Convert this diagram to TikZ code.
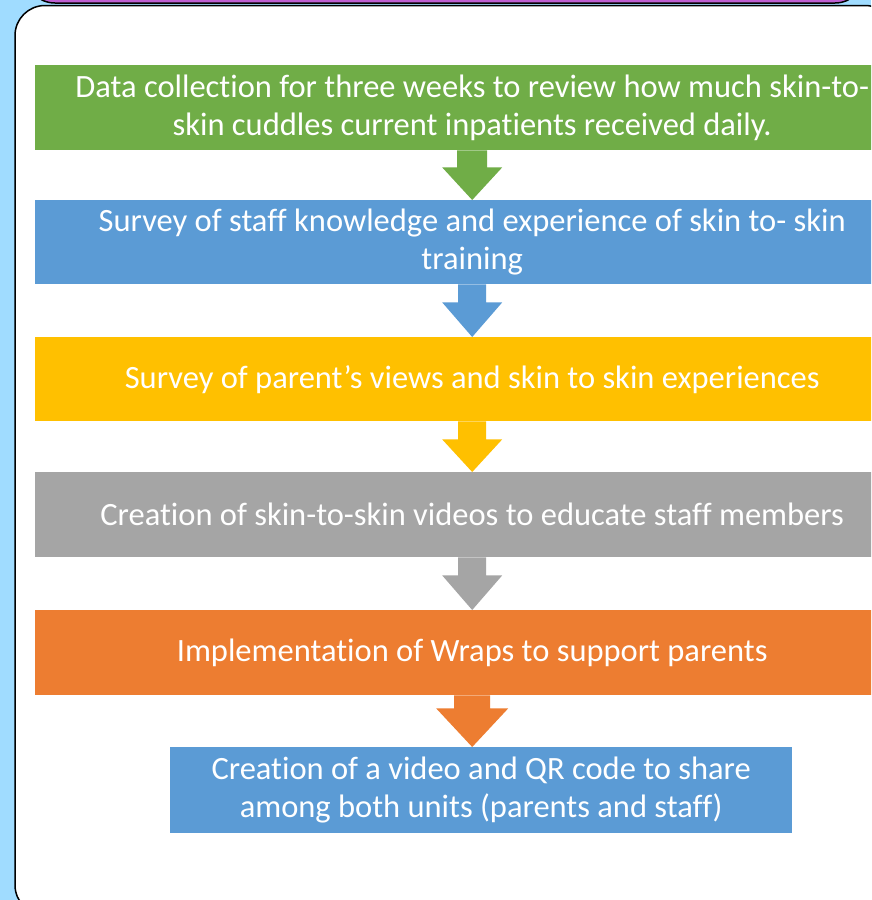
\documentclass[tikz,border=0pt]{standalone}
\usepackage{fontspec}
\setmainfont[Ligatures=NoCommon]{Carlito}
\usetikzlibrary{calc}
\definecolor{bgblue}{RGB}{160,220,255}
\definecolor{topviolet}{RGB}{190,95,210}
\definecolor{cgreen}{HTML}{70AD47}
\definecolor{cblue}{HTML}{5B9BD5}
\definecolor{cyellow}{HTML}{FFC000}
\definecolor{cgray}{HTML}{A5A5A5}
\definecolor{corange}{HTML}{ED7D31}
\newcommand{\flowarrow}[6]{%
  \fill[#3] ($(#1.south)+(-#4,0)$) -- ($(#1.south)+(-#4,#6)$) -- ($(#1.south)+(-#5,#6)$)
    -- (#2.north -| #1.south) -- ($(#1.south)+(#5,#6)$) -- ($(#1.south)+(#4,#6)$)
    -- ($(#1.south)+(#4,0)$) -- cycle;}
\begin{document}
\begin{tikzpicture}[x=1pt,y=-1pt,
  stepbox/.style={rectangle, minimum width=874pt, minimum height=85pt, inner sep=0pt,
    text=white, font=\fontsize{32.5}{38}\selectfont, align=center, anchor=north west},
  framebox/.style={line width=1.5pt, draw=black, rounded corners=30pt}]
\path[use as bounding box] (0,0) rectangle (871,900);
\clip (0,0) rectangle (871,900);
\fill[bgblue] (0,0) rectangle (871,900);
\draw[framebox, fill=topviolet] (25,-100) rectangle (865,3);
\draw[framebox, fill=white] (15,5.5) rectangle (895,915);

\node[stepbox, fill=cgreen] (b1) at (35,65)
  {Data collection for three weeks to review how much skin-to-\\skin cuddles current inpatients received daily.};
\node[stepbox, fill=cblue, minimum height=84pt] (b2) at (35,200)
  {Survey of staff knowledge and experience of skin to- skin\\training};
\node[stepbox, fill=cyellow, minimum height=84pt] (b3) at (35,337)
  {Survey of parent's views and skin to skin experiences};
\node[stepbox, fill=cgray] (b4) at (35,472)
  {Creation of skin-to-skin videos to educate staff members};
\node[stepbox, fill=corange] (b5) at (35,610)
  {Implementation of Wraps to support parents};
\node[stepbox, fill=cblue, minimum width=622pt, minimum height=86pt] (b6) at (170,747)
  {Creation of a video and QR code to share\\among both units (parents and staff)};

\flowarrow{b1}{b2}{cgreen}{15}{30}{17}
\flowarrow{b2}{b3}{cblue}{14}{30}{18}
\flowarrow{b3}{b4}{cyellow}{14}{30}{18}
\flowarrow{b4}{b5}{cgray}{14}{30}{18}
\flowarrow{b5}{b6}{corange}{18}{36}{13}
\end{tikzpicture}
\end{document}
